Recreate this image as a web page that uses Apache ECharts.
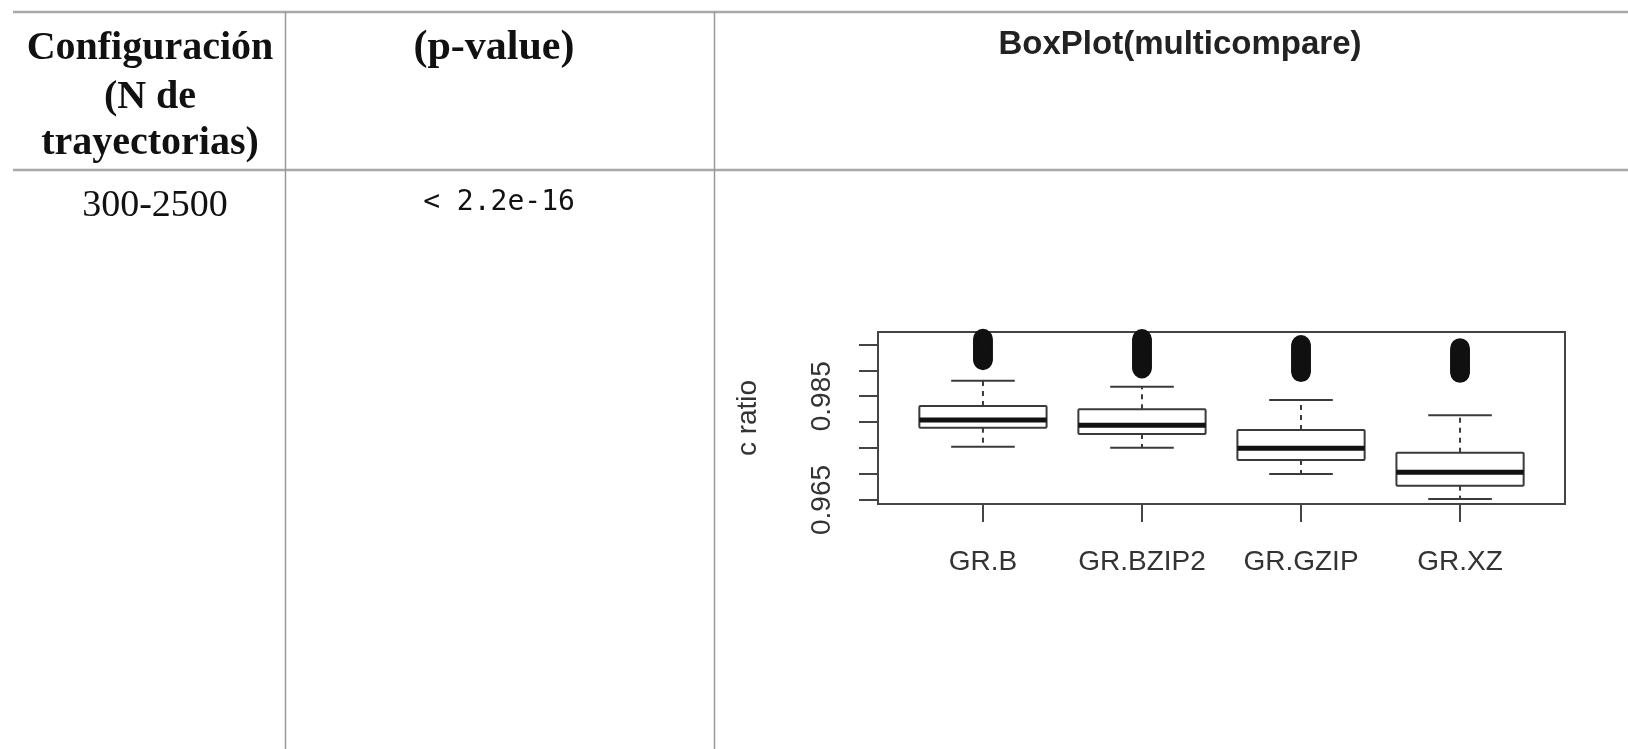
<!DOCTYPE html>
<html>
<head>
<meta charset="utf-8">
<script src="https://cdn.jsdelivr.net/npm/echarts@6/dist/echarts.min.js"></script>
<style>
html,body{margin:0;padding:0;background:#fff;}
#chart{width:1628px;height:749px;}
</style>
</head>
<body>
<div id="chart"></div>
<script>
// ---- data ----
const categories = ['GR.B', 'GR.BZIP2', 'GR.GZIP', 'GR.XZ'];
// [low whisker, Q1, median, Q3, high whisker]
const boxGRB     = [0.97527, 0.97893, 0.98041, 0.98311, 0.98799];
const boxGRBZIP2 = [0.97508, 0.97772, 0.97939, 0.98248, 0.98683];
const boxGRGZIP  = [0.97001, 0.97271, 0.97496, 0.97849, 0.98427];
const boxGRXZ    = [0.96520, 0.96776, 0.97034, 0.97411, 0.98132];
const outGRB     = [0.99190, 0.99210, 0.99235, 0.99260, 0.99285, 0.99310, 0.99335, 0.99360, 0.99385, 0.99410, 0.99435, 0.99460, 0.99485, 0.99510, 0.99535, 0.99560, 0.99585, 0.99610];
const outGRBZIP2 = [0.99030, 0.99055, 0.99080, 0.99105, 0.99130, 0.99155, 0.99180, 0.99205, 0.99230, 0.99255, 0.99280, 0.99305, 0.99330, 0.99355, 0.99380, 0.99405, 0.99430, 0.99455, 0.99480, 0.99505, 0.99530, 0.99555, 0.99580, 0.99605];
const outGRGZIP  = [0.98960, 0.98985, 0.99010, 0.99035, 0.99060, 0.99085, 0.99110, 0.99135, 0.99160, 0.99185, 0.99210, 0.99235, 0.99260, 0.99285, 0.99310, 0.99335, 0.99360, 0.99385, 0.99410, 0.99435, 0.99460, 0.99490];
const outGRXZ    = [0.98945, 0.98970, 0.98995, 0.99020, 0.99045, 0.99070, 0.99095, 0.99120, 0.99145, 0.99170, 0.99195, 0.99220, 0.99245, 0.99270, 0.99295, 0.99320, 0.99345, 0.99370, 0.99395, 0.99430];
const yTicks = [0.965, 0.970, 0.975, 0.980, 0.985, 0.990, 0.995];
const yTickLabels = [0.965, 0.985];
const yRange = [0.96423, 0.99737];
const xRange = [0.34, 4.66];

const headerCol1 = ['Configuración', '(N de', 'trayectorias)'];
const headerCol2 = '(p-value)';
const headerCol3 = 'BoxPlot(multicompare)';
const rowCol1 = '300-2500';
const rowCol2 = '< 2.2e-16';
const yName = 'c ratio';

// ---- build ----
const boxes = [boxGRB, boxGRBZIP2, boxGRGZIP, boxGRXZ];
const outs = [outGRB, outGRBZIP2, outGRGZIP, outGRXZ];
const boxData = boxes.map((b, i) => [i + 1].concat(b));
const outData = [];
outs.forEach((arr, i) => arr.forEach(v => outData.push([i + 1, v])));

const chart = echarts.init(document.getElementById('chart'), null, {renderer: 'canvas'});

const lineGray = '#a8a8a8';
const vGray = '#999';
const serif = "'Liberation Serif', 'Times New Roman', serif";
const sans = "'Liberation Sans', Arial, sans-serif";

const graphics = [
  {type: 'line', shape: {x1: 13, y1: 12, x2: 1628, y2: 12}, style: {stroke: lineGray, lineWidth: 2.5}},
  {type: 'line', shape: {x1: 13, y1: 170, x2: 1628, y2: 170}, style: {stroke: lineGray, lineWidth: 2.5}},
  {type: 'line', shape: {x1: 285.5, y1: 12, x2: 285.5, y2: 749}, style: {stroke: vGray, lineWidth: 1.5}},
  {type: 'line', shape: {x1: 714.5, y1: 12, x2: 714.5, y2: 749}, style: {stroke: vGray, lineWidth: 1.5}},
  {type: 'text', x: 150, y: 49, style: {text: headerCol1[0], font: "bold 40px " + serif, fill: '#111', align: 'center', verticalAlign: 'middle'}},
  {type: 'text', x: 150, y: 98, style: {text: headerCol1[1], font: "bold 40px " + serif, fill: '#111', align: 'center', verticalAlign: 'middle'}},
  {type: 'text', x: 150, y: 144, style: {text: headerCol1[2], font: "bold 40px " + serif, fill: '#111', align: 'center', verticalAlign: 'middle'}},
  {type: 'text', x: 494, y: 48, style: {text: headerCol2, font: "bold 42px " + serif, fill: '#111', align: 'center', verticalAlign: 'middle'}},
  {type: 'text', x: 1180, y: 45, style: {text: headerCol3, font: "bold 33px " + sans, fill: '#222', align: 'center', verticalAlign: 'middle'}},
  {type: 'text', x: 155, y: 206, style: {text: rowCol1, font: "38px " + serif, fill: '#111', align: 'center', verticalAlign: 'middle'}},
  {type: 'text', x: 499, y: 203, style: {text: rowCol2, font: "28px 'DejaVu Sans Mono', monospace", fill: '#111', align: 'center', verticalAlign: 'middle'}}
];

const option = {
  backgroundColor: '#fff',
  animation: false,
  graphic: graphics,
  grid: {left: 878, top: 332, width: 687, height: 172, show: true, borderColor: '#444', borderWidth: 2, backgroundColor: 'transparent'},
  xAxis: {
    type: 'value', min: xRange[0], max: xRange[1],
    splitLine: {show: false},
    axisLine: {show: true, lineStyle: {color: '#444', width: 2}},
    axisTick: {show: true, length: 18, lineStyle: {color: '#444', width: 2}, customValues: [1, 2, 3, 4]},
    axisLabel: {customValues: [1, 2, 3, 4], formatter: v => categories[Math.round(v) - 1] || '', fontSize: 28, fontFamily: sans, color: '#333', margin: 44}
  },
  yAxis: {
    type: 'value', min: yRange[0], max: yRange[1],
    name: yName, nameLocation: 'middle', nameRotate: 90, nameGap: 116,
    nameTextStyle: {fontSize: 28, fontFamily: sans, color: '#333'},
    splitLine: {show: false},
    axisLine: {show: true, lineStyle: {color: '#444', width: 2}},
    axisTick: {show: true, length: 19, lineStyle: {color: '#444', width: 2}, customValues: yTicks},
    axisLabel: {customValues: yTickLabels, rotate: 90, formatter: v => v.toFixed(3), fontSize: 28, fontFamily: sans, color: '#333', margin: 42}
  },
  series: [
    {
      type: 'custom',
      data: boxData,
      encode: {x: 0, y: [1, 2, 3, 4, 5]},
      clip: true,
      renderItem: function (params, api) {
        const x = api.value(0);
        const pLow = api.coord([x, api.value(1)]);
        const pQ1 = api.coord([x, api.value(2)]);
        const pMed = api.coord([x, api.value(3)]);
        const pQ3 = api.coord([x, api.value(4)]);
        const pHigh = api.coord([x, api.value(5)]);
        const half = api.size([0.8, 0])[0] / 2;
        const cap = half / 2;
        const cx = pMed[0];
        const stroke = '#3a3a3a';
        return {
          type: 'group',
          children: [
            {type: 'line', shape: {x1: cx, y1: pQ3[1], x2: cx, y2: pHigh[1]}, style: {stroke: stroke, lineWidth: 2, lineDash: [5, 5]}},
            {type: 'line', shape: {x1: cx, y1: pQ1[1], x2: cx, y2: pLow[1]}, style: {stroke: stroke, lineWidth: 2, lineDash: [5, 5]}},
            {type: 'line', shape: {x1: cx - cap, y1: pHigh[1], x2: cx + cap, y2: pHigh[1]}, style: {stroke: stroke, lineWidth: 2}},
            {type: 'line', shape: {x1: cx - cap, y1: pLow[1], x2: cx + cap, y2: pLow[1]}, style: {stroke: stroke, lineWidth: 2}},
            {type: 'rect', shape: {x: cx - half, y: pQ3[1], width: half * 2, height: pQ1[1] - pQ3[1], r: 1}, style: {fill: '#fff', stroke: stroke, lineWidth: 2}},
            {type: 'line', shape: {x1: cx - half, y1: pMed[1], x2: cx + half, y2: pMed[1]}, style: {stroke: '#111', lineWidth: 5}}
          ]
        };
      }
    },
    {
      type: 'scatter',
      data: outData,
      symbol: 'circle',
      symbolSize: 17,
      clip: true,
      itemStyle: {color: 'rgba(0,0,0,0)', borderColor: '#111', borderWidth: 2.5, opacity: 1}
    }
  ]
};
chart.setOption(option);
</script>
</body>
</html>
